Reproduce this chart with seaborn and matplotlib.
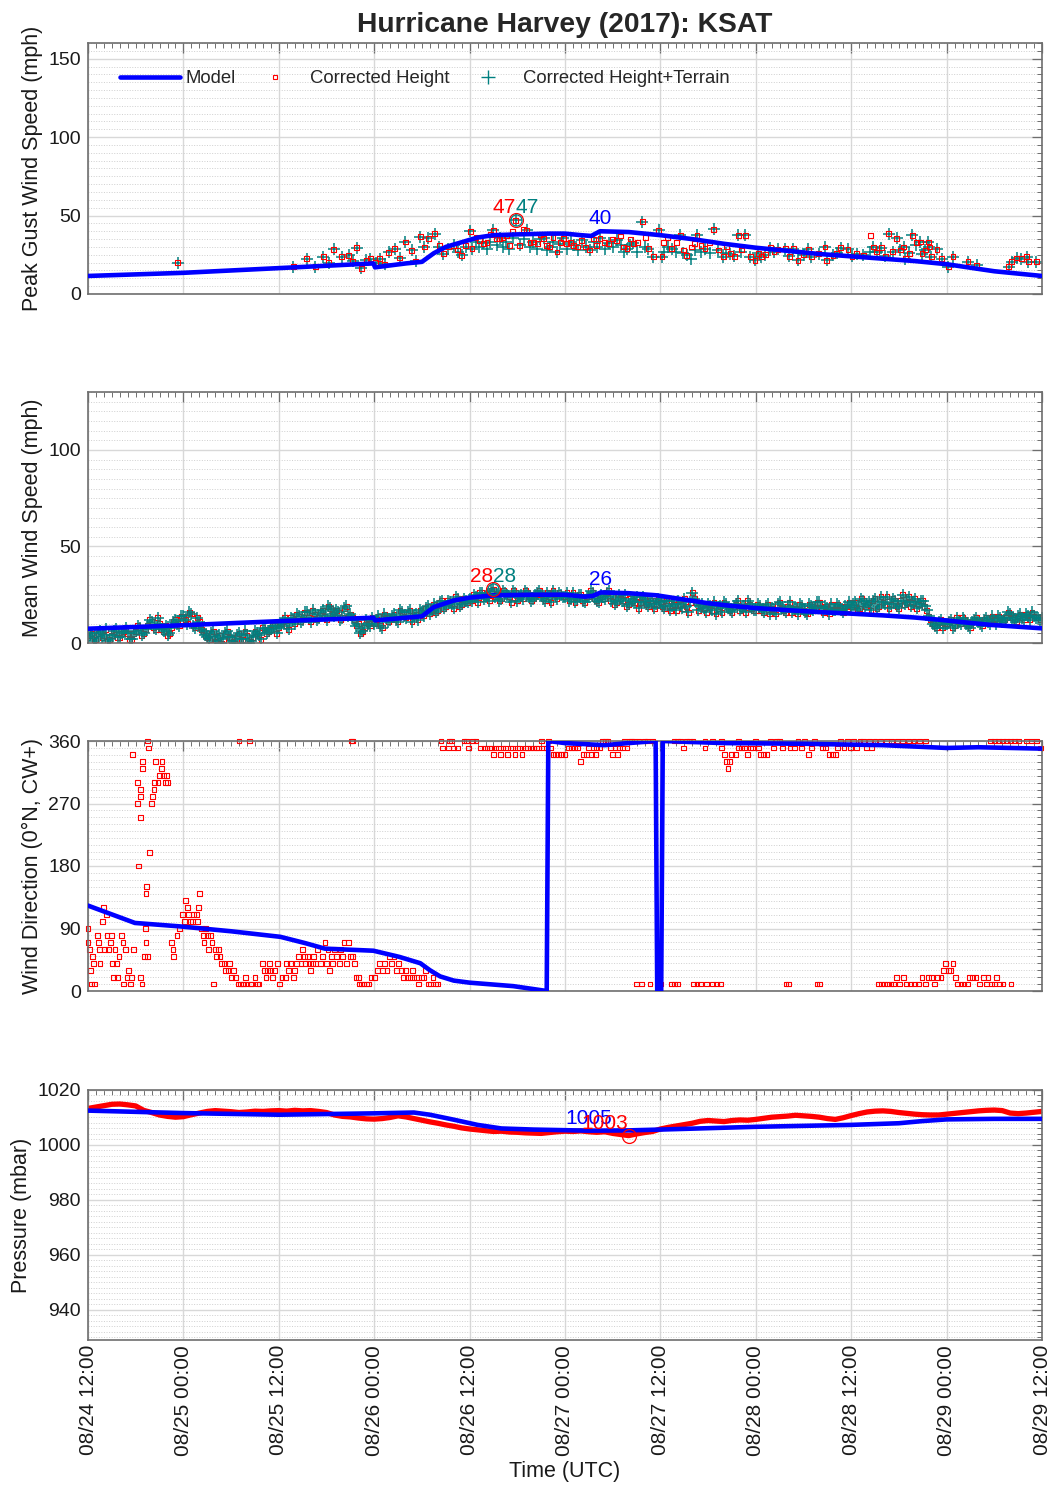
import numpy as np
import pandas as pd
import matplotlib
matplotlib.use("Agg")
import matplotlib.pyplot as plt
import matplotlib.dates as mdates
from matplotlib.ticker import MultipleLocator
from matplotlib.lines import Line2D
import seaborn as sns

sns.set_theme(style="white")
plt.rcParams["font.family"] = ["Liberation Sans", "DejaVu Sans"]

# ---------------- data (hours after 2017-08-24 12:00 UTC) ----------------
T0 = pd.Timestamp("2017-08-24 12:00")

# Peak gust model
gust_model_h = [0, 6, 12, 18, 24, 30, 35.9, 36.1, 40, 42, 43.5, 45, 47, 49, 51, 54, 58, 60, 62,
                63.3, 64.4, 68, 72, 76, 80, 84, 88, 92, 96, 100, 104, 108, 110, 112, 114, 116, 118, 120]
gust_model_v = [11.5, 12.5, 13.5, 15, 16.5, 18, 19.5, 17, 19.5, 20.5, 26, 30, 33, 36, 37.5, 38, 38.5, 38.5, 37.5,
                37, 40, 39.5, 37.5, 35, 32, 29.5, 27.5, 25.5, 24, 22.5, 21, 19, 17.5, 16, 14.5, 13.5, 12.5, 11.5]

# Peak gust observations
gust_obs_h = [11.3, 25.8, 27.5, 28.6, 29.6, 30.3, 30.9, 31.9, 32.8, 33.3, 33.8, 34.4, 35.0, 35.5, 36.2, 36.7,
              37.3, 37.8, 38.6, 39.2, 39.9, 40.7, 41.2, 41.8, 42.3, 42.8, 43.6, 44.2, 44.7, 45.3, 46.0, 46.5,
              47.0, 47.5, 48.1, 48.3, 48.8, 49.2, 49.7, 50.2, 50.6, 51.0, 51.4, 51.8, 52.2, 52.6, 53.0, 53.4,
              53.8, 54.3, 54.8, 55.2, 55.6, 56.0, 56.5, 56.9, 57.3, 57.7, 58.1, 58.5, 59.0, 59.4, 59.8, 60.2,
              60.7, 61.1, 61.6, 62.1, 62.6, 63.1, 63.6, 64.0, 64.4, 65.0, 65.5, 66.0, 66.5, 67.0, 67.4, 67.8,
              68.2, 68.6, 69.1, 69.7, 70.1, 70.5, 71.1, 71.8, 72.2, 72.4, 72.9, 73.4, 74.0, 74.5, 74.9, 75.3,
              75.9, 76.3, 76.6, 77.1, 77.6, 78.2, 78.7, 79.3, 79.9, 80.3, 80.8, 81.3, 81.8, 82.2, 82.7, 83.3,
              83.9, 84.3, 84.7, 85.2, 85.8, 86.3, 86.8, 87.7, 88.2, 88.7, 89.3, 90.0, 90.6, 91.0, 91.9, 92.7,
              92.9, 93.7, 94.2, 94.7, 95.6, 96.1, 96.7, 97.5, 98.4, 98.8, 99.2, 99.8, 100.3, 100.7, 101.2, 101.7,
              102.2, 102.6, 102.8, 103.3, 103.7, 104.2, 104.7, 104.9, 105.3, 105.7, 105.8, 106.1, 106.8, 107.4,
              108.2, 108.8, 110.7, 111.8, 115.8, 116.2, 116.8, 117.4, 118.1, 118.3, 119.3]
gust_terrain = [20, 17.3, 22.6, 17.3, 23.7, 20, 28.6, 23.7, 24.7, 21, 29.4, 16.3, 21.5, 22.6, 20, 22.6,
                19, 26.5, 29, 23, 33.2, 27.9, 21, 36.4, 30, 35.4, 38.5, 30, 25.8, 29, 31.1, 27,
                24.7, 30, 40, 29, 33, 30, 32.2, 29, 33, 40.6, 31, 35.4, 30, 33, 29, 36,
                47, 31, 35, 40.6, 30, 33.2, 29, 35, 35.4, 28, 30, 33, 26.8, 32, 35.4, 29,
                33, 31, 28, 34.3, 30, 28, 33, 30, 35.4, 29, 32.2, 30, 34.3, 31, 27, 29,
                31, 32.2, 27, 46, 30, 29, 23.7, 40.6, 23.7, 26.8, 30, 29, 27, 37.5, 26, 24.7,
                22.6, 28, 37.5, 27, 29, 26, 41.3, 28, 23.7, 26, 25.8, 24, 37.5, 27, 37.5, 23.7,
                21.6, 26, 23.7, 25, 29.4, 27, 28.4, 29, 24, 29, 21.6, 25, 28.6, 23.7, 25.8, 30,
                21.6, 24.7, 26, 29.4, 28.6, 24, 25.8, 24.7, 27, 30, 26.8, 29.4, 24, 38.5, 27, 35.4,
                28, 30, 22.6, 26, 37.5, 31, 33.2, 25.8, 28, 33.2, 30, 23.7, 28.6, 22.6,
                17.3, 23.7, 20.5, 18.4, 17.3, 20.5, 23, 22.6, 23.7, 20.5, 20.5]
gust_height = [20, 17.3, 22.6, 17.3, 23.7, 20, 28.6, 23.7, 24.7, 21, 29.4, 16.3, 21.5, 22.6, 20, 22.6,
               19, 26.5, 29, 23, 33.2, 27.9, 21, 36.4, 30, 35.4, 38.5, 31, 25.8, 30, 31.1, 28,
               24.7, 31, 40, 29, 36, 34, 32.2, 33, 38, 40.6, 35, 35.4, 36, 37, 31, 40,
               47, 31, 41, 40.6, 33, 33.2, 32, 38, 35.4, 31, 30, 36, 26.8, 33, 35.4, 32,
               33, 31, 30, 34.3, 30, 28, 35, 31, 35.4, 33, 32.2, 35, 34.3, 37, 30, 29,
               35, 32.2, 33, 46, 36, 29, 23.7, 40.6, 23.7, 33, 36, 29, 33, 37.5, 28, 24.7,
               30, 32, 37.5, 31, 29, 33, 41.3, 28, 23.7, 30, 25.8, 24, 37.5, 28, 37.5, 23.7,
               21.6, 26, 23.7, 25, 29.4, 27, 28.4, 29, 24, 29, 21.6, 25, 28.6, 23.7, 25.8, 30,
               21.6, 24.7, 26, 29.4, 28.6, 24, 25.8, 24.7, 37.5, 30, 26.8, 29.4, 24, 38.5, 27, 35.4,
               28, 30, 22.6, 26, 37.5, 33, 33.2, 25.8, 28, 33.2, 30, 23.7, 28.6, 22.6,
               17.3, 23.7, 20.5, 18.4, 17.3, 20.5, 23, 22.6, 23.7, 20.5, 20.5]

# Mean wind model
mean_model_h = [0, 12, 24, 35.9, 36.1, 42, 43.5, 46, 48, 51, 56, 60, 62.5, 63.5, 64.5, 68, 71.5, 75, 78,
                81, 84, 88, 92, 96, 100, 104, 107, 110, 113.5, 116, 120]
mean_model_v = [7.4, 9.2, 11.3, 13.1, 11.7, 13.8, 18.6, 22, 23.5, 24.7, 25, 25, 24, 24.4, 26.2, 25.8, 24.7,
                22.5, 20.6, 19.2, 18.1, 17, 16, 15.2, 14.3, 13.2, 12.1, 10.8, 9.4, 8.7, 7.6]

# Mean wind observations on the hour and half hour from 08/24 12:00
mean_obs_h = np.arange(0, 120.5, 0.5)
mean_obs_v = [3, 5, 2, 6, 4, 1, 4, 7, 3, 6, 5, 2, 6, 8, 5, 9, 11, 7, 10, 6, 4, 8, 12, 9,
              14, 10, 15, 8, 11, 6, 3, 5, 1, 4, 2, 6, 3, 0, 5, 2, 4, 1, 6, 4, 8, 5, 7, 9,
              8, 11, 9, 13, 10, 14, 12, 16, 11, 15, 13, 17, 12, 18, 14, 16, 13, 19, 15, 12, 10, 6, 12, 9,
              10, 14, 8, 13, 12, 15, 11, 16, 13, 17, 14, 12, 16, 18, 15, 20, 17, 22, 19, 21, 18, 23, 20, 22,
              23, 25, 21, 26, 24, 22, 28, 25, 23, 26, 24, 27, 22, 25, 27, 24, 23, 26, 25, 22, 24, 27, 23, 25,
              24, 22, 26, 23, 25, 21, 24, 26, 22, 25, 23, 27, 24, 21, 23, 25, 20, 22, 24, 21, 23, 19, 22, 20,
              21, 18, 22, 19, 17, 20, 23, 16, 26, 21, 19, 18, 20, 17, 15, 19, 21, 18, 16, 20, 17, 19, 22, 18,
              17, 19, 16, 20, 18, 15, 21, 17, 19, 16, 18, 20, 17, 15, 19, 18, 21, 16, 18, 20, 17, 19, 16, 18,
              19, 21, 18, 22, 20, 17, 23, 19, 21, 24, 20, 22, 18, 25, 21, 19, 23, 20, 22, 17, 12, 9, 11, 8,
              10, 12, 9, 11, 13, 10, 8, 12, 11, 9, 13, 10, 12, 14, 11, 13, 15, 12, 14, 13, 15, 12, 14, 13,
              13]
# Mean wind observations at quarter past / quarter to
mean_obs_h_mid = np.arange(0.25, 120, 0.5)
mean_obs_v_mid = [4, 1, 5, 3, 7, 2, 6, 3, 5, 8, 2, 5, 9, 4, 7, 12, 8, 13, 7, 9, 5, 11, 10, 14,
                  12, 16, 9, 13, 7, 4, 2, 6, 3, 0, 5, 3, 1, 4, 2, 6, 0, 3, 5, 2, 7, 6, 9, 5,
                  10, 13, 7, 12, 15, 11, 16, 13, 17, 12, 16, 14, 19, 15, 17, 12, 18, 14, 13, 9, 5, 8, 10, 13,
                  12, 9, 15, 11, 14, 12, 17, 14, 16, 11, 15, 17, 14, 19, 17, 16, 21, 18, 22, 20, 24, 19, 23, 21,
                  22, 24, 26, 23, 25, 27, 24, 22, 27, 25, 21, 26, 24, 23, 26, 22, 25, 27, 23, 26, 21, 25, 26, 24,
                  26, 23, 21, 25, 22, 24, 27, 23, 21, 24, 26, 22, 20, 25, 22, 19, 23, 21, 18, 24, 20, 22, 18, 23,
                  19, 22, 17, 20, 22, 18, 19, 21, 23, 17, 20, 16, 19, 21, 18, 16, 20, 17, 19, 22, 18, 16, 20, 17,
                  20, 17, 19, 15, 17, 20, 18, 16, 21, 18, 15, 19, 16, 20, 17, 21, 18, 19, 15, 17, 20, 17, 19, 21,
                  20, 17, 23, 19, 21, 22, 18, 24, 20, 18, 23, 19, 22, 20, 24, 21, 18, 22, 19, 14, 10, 8, 12, 10,
                  11, 8, 13, 10, 12, 9, 11, 13, 10, 12, 11, 14, 10, 13, 12, 16, 13, 11, 15, 12, 14, 16, 13, 12]

# Wind direction model
dir_model_h = [0, 5.9, 11.6, 18, 24.2, 27.3, 29.8, 35.9, 39.2, 41.8, 43, 44.3, 46, 48, 53.5, 57.7, 57.9,
               60, 65, 68, 71.4, 71.6, 72.1, 72.3, 80, 90, 100, 108, 112, 120]
dir_model_v = [123, 98, 93, 86, 78, 69, 61, 58, 49, 40, 30, 21, 15, 12, 7, 0, 360,
               357, 354, 357, 360, 0, 0, 360, 357, 356, 354, 350, 351, 349]

# Wind direction observations (corrected height)
dir_obs_h = [0.0, 0.0, 0.2, 0.3, 0.4, 0.6, 0.7, 0.8, 1.2, 1.3, 1.4, 1.5, 1.8, 2.0, 2.1, 2.3, 2.4, 2.6, 2.8, 3.0,
             3.1, 3.2, 3.4, 3.6, 3.7, 3.9, 4.2, 4.4, 4.5, 4.7, 4.9, 5.1, 5.3, 5.5, 5.7,
             5.6, 6.2, 6.2, 6.4, 6.6, 6.6, 6.6, 6.9, 6.9, 7.5, 7.6, 7.3, 7.4, 7.7, 8.0, 8.1, 8.3, 8.4, 8.5,
             8.8, 9.0, 9.2, 9.3, 9.5, 9.7, 9.9, 10.0, 6.6, 6.8, 7.2, 7.3, 7.5, 7.1,
             10.5, 10.7, 10.8, 11.2, 11.5, 11.9, 12.1, 12.3, 12.5, 12.6, 12.9, 13.1, 13.3, 13.6, 13.9, 14.0, 13.8,
             14.3, 14.5, 14.6, 14.8, 15.0, 15.2, 15.4, 15.6, 15.8, 16.0, 16.2, 16.4, 16.6, 16.8, 17.1, 17.3,
             17.6, 17.8, 18.1, 18.3, 18.6, 18.9, 19.0, 19.2, 19.4, 19.6, 19.8, 20.0, 20.3, 20.4, 20.6, 21.0,
             21.3, 21.5, 22.0, 22.2, 22.4, 22.6, 22.8, 23.0, 23.2, 23.5, 23.8,
             24.1, 24.4, 24.8, 25.0, 25.2, 25.5, 25.8, 26.0, 26.2, 26.5, 26.8, 27.0, 27.2, 27.4, 27.6, 27.8,
             28.0, 28.2, 28.4, 28.6, 28.9, 29.2, 29.5, 29.8, 30.0, 30.2, 30.4,
             30.6, 30.8, 31.0, 31.3, 31.6, 31.8, 32.0, 32.2, 32.5, 32.8, 33.0, 33.1, 33.3, 33.3, 33.5, 33.7,
             34.0, 34.2, 34.4, 34.7, 35.0, 35.3, 35.6, 36.0,
             36.4, 36.7, 37.0, 37.3, 37.6, 37.9, 38.2, 38.5, 38.8, 39.1, 39.4, 39.7, 39.9, 40.2, 40.5, 40.8,
             41.0, 41.3, 41.6, 41.9, 42.2, 42.5, 42.8, 43.1, 43.4, 43.7, 44.0,
             44.4, 44.6, 45.3, 45.5, 45.7, 46.0, 46.5, 47.3, 47.6, 47.9, 48.4, 48.8, 49.4, 49.9, 50.2, 50.5,
             50.8, 51.0, 51.3, 51.6, 51.9, 52.2, 52.5, 52.8, 53.1, 53.4, 53.7, 54.0, 54.3, 54.6, 55.0, 55.3,
             55.7, 56.0, 56.4, 56.7, 57.0, 57.3, 57.6, 57.9, 58.2, 58.5,
             58.8, 59.2, 59.6, 60.0, 60.4, 60.8, 61.2, 61.6, 62.0, 62.3, 62.7, 63.0, 63.3, 63.6, 63.8, 64.0,
             64.4, 64.7, 65.1, 65.4, 65.7, 66.0, 66.3, 66.6, 66.9, 67.2, 67.5, 67.8, 68.1, 68.4, 68.7, 69.0,
             69.3, 69.6, 70.0, 70.4, 70.7, 71.0, 72.0,
             73.4, 73.8, 74.2, 73.7, 74.1, 74.5, 74.9, 75.3, 75.7, 76.1, 76.2, 76.6, 77.0, 77.6, 77.6, 77.8,
             78.6, 78.6, 79.1, 79.6, 79.7, 79.7, 80.1, 80.3, 80.5, 80.7, 80.9, 81.4, 81.8, 81.8, 82.2, 82.6,
             83.0, 83.3, 83.6, 84.0, 84.3, 84.6, 85.0, 85.4, 85.8, 86.2, 86.6, 87.0, 87.4, 87.8, 88.1, 88.3,
             88.9, 89.3, 89.7, 90.1, 90.6, 91.0, 91.4, 91.7, 92.0, 92.4, 92.8, 93.2, 93.6, 94.0, 94.3, 94.7,
             95.1, 95.5, 95.9, 96.3, 96.7, 97.1, 97.5, 97.9, 98.3, 98.6, 99.0, 99.4, 99.8, 100.2, 100.6, 101.0,
             101.3, 99.7, 100.4, 101.1, 101.8, 102.5, 103.2, 103.9, 104.6, 105.3, 101.7, 102.1, 102.6, 103.0,
             103.5, 104.0, 104.5, 104.9, 105.3, 105.7, 106.1, 106.5, 106.9, 107.3, 107.6, 107.9, 108.2, 108.5,
             108.8, 109.1, 109.4, 109.8, 110.2, 110.6, 110.9, 111.3, 111.7, 112.1, 112.6, 113.0, 113.2, 113.6,
             114.0, 114.3, 114.7, 115.1, 116.1, 113.5, 114.0, 114.5, 115.0, 115.5, 116.0, 116.5, 117.0, 118.1,
             118.7, 119.3, 119.8]
dir_obs_v = [90, 70, 60, 30, 10, 50, 40, 10, 80, 70, 60, 40, 100, 120, 60, 110, 80, 60, 70, 80,
             40, 20, 60, 40, 20, 50, 80, 70, 10, 60, 20, 30, 10, 20, 60,
             340, 300, 270, 180, 290, 280, 250, 330, 320, 360, 350, 140, 150, 200, 270, 280, 290, 300, 330,
             300, 310, 320, 330, 310, 300, 310, 300, 20, 10, 90, 70, 50, 50,
             70, 60, 50, 80, 90, 110, 100, 130, 120, 110, 100, 100, 110, 110, 120, 140, 100,
             90, 80, 70, 90, 80, 60, 80, 70, 10, 60, 50, 60, 50, 40, 40, 30,
             30, 40, 20, 30, 20, 10, 360, 10, 10, 10, 20, 10, 360, 10, 10, 20,
             10, 10, 40, 30, 20, 30, 40, 30, 20, 30, 40,
             10, 20, 20, 40, 30, 40, 20, 30, 40, 50, 40, 60, 50, 40, 50, 40,
             30, 40, 50, 40, 60, 40, 50, 70, 40, 60, 30,
             50, 40, 60, 50, 40, 60, 50, 70, 40, 70, 50, 360, 360, 50, 40, 20,
             20, 10, 10, 10, 10, 10, 20, 20,
             30, 40, 30, 40, 30, 50, 40, 50, 30, 40, 30, 20, 30, 20, 20, 30,
             20, 20, 10, 20, 20, 30, 10, 10, 20, 10, 10,
             360, 350, 350, 360, 360, 350, 350, 360, 360, 350, 360, 360, 350, 350, 350, 350,
             350, 340, 350, 350, 340, 350, 350, 340, 350, 350, 340, 350, 350, 340, 350, 350,
             350, 350, 350, 350, 360, 350, 350, 360, 350, 340,
             340, 340, 340, 340, 350, 350, 350, 350, 330, 340, 340, 350, 340, 350, 340, 350,
             350, 360, 360, 360, 350, 340, 350, 340, 350, 350, 360, 350, 360, 360, 360, 10,
             360, 10, 360, 360, 10, 360, 10,
             10, 10, 10, 360, 360, 360, 350, 360, 360, 360, 10, 10, 10, 360, 350, 10,
             10, 360, 10, 10, 360, 350, 340, 330, 320, 330, 340, 340, 360, 350, 350, 350,
             340, 350, 350, 360, 350, 340, 340, 340, 360, 350, 360, 360, 350, 10, 10, 350,
             350, 360, 350, 360, 340, 350, 360, 10, 10, 350, 350, 340, 340, 340, 350, 360,
             350, 360, 350, 360, 350, 360, 360, 350, 360, 350, 360, 10, 10, 10, 10, 10,
             10, 360, 360, 360, 360, 360, 360, 360, 360, 360, 20, 10, 20, 10,
             10, 10, 10, 20, 10, 20, 20, 10, 20, 20, 30, 40, 30, 30,
             40, 20, 10, 10, 10, 10, 20, 20, 20, 10, 20, 10, 20, 10,
             10, 20, 10, 10, 10, 360, 360, 360, 360, 360, 360, 360, 360, 360,
             360, 360, 350]

# Pressure model
pres_model_h = [0, 12, 24, 36, 41, 43, 46, 49, 52, 56, 63, 68, 72, 84, 96, 102, 105, 108, 114, 120]
pres_model_v = [1012.5, 1011.6, 1011, 1011.5, 1011.8, 1011, 1009.2, 1007.3, 1006, 1005.6, 1005.2, 1005.3,
                1005.6, 1006.6, 1007.3, 1007.9, 1008.7, 1009.3, 1009.5, 1009.5]

# Pressure observations, hourly from 08/24 12:00
pres_obs_h = np.arange(0, 121)
pres_obs_v = [1013.3, 1013.8, 1014.3, 1014.8, 1014.9, 1014.6, 1014.2, 1012.6, 1011.8, 1010.9, 1010.4, 1010.1,
              1010.3, 1011.0, 1011.6, 1012.2, 1012.5, 1012.3, 1012.1, 1011.8, 1012.0, 1012.3, 1012.2, 1012.4,
              1012.5, 1012.3, 1012.6, 1012.4, 1012.5, 1012.2, 1011.8, 1010.9, 1010.4, 1010.2, 1009.8, 1009.5,
              1009.4, 1009.6, 1010.0, 1010.6, 1010.2, 1009.6, 1009.0, 1008.4, 1007.9, 1007.3, 1006.8, 1006.2,
              1005.8, 1005.5, 1005.2, 1004.9, 1005.0, 1004.7, 1004.6, 1004.4, 1004.3, 1004.2, 1004.5, 1004.8,
              1005.0, 1004.9, 1005.1, 1004.8, 1004.6, 1004.8, 1004.2, 1003.8, 1003.4, 1004.0, 1004.5, 1004.9,
              1005.8, 1006.4, 1006.9, 1007.4, 1007.9, 1008.6, 1008.9, 1008.7, 1008.5, 1008.9, 1009.1, 1009.0,
              1009.3, 1009.7, 1010.1, 1010.3, 1010.5, 1010.8, 1010.6, 1010.4, 1010.1, 1009.6, 1009.3, 1009.9,
              1010.7, 1011.4, 1012.0, 1012.3, 1012.4, 1012.2, 1011.8, 1011.5, 1011.2, 1011.0, 1010.9, 1010.9,
              1011.2, 1011.5, 1011.8, 1012.1, 1012.4, 1012.6, 1012.7, 1012.5, 1011.6, 1011.4, 1011.6, 1011.9,
              1012.2]

# ---------------- styling ----------------
BLUE = "#0000ff"
RED = "#ff0000"
TEAL = "#008080"
FRAME = "#6e6e6e"
TICK_FS = 14
XTICK_FS = 15
LABEL_FS = 15.5
ANN_FS = 15


def to_time(hours):
    return T0 + pd.to_timedelta(np.asarray(hours, dtype=float), unit="h")


W, H = 1052, 1488
fig = plt.figure(figsize=(W / 100, H / 100), dpi=100)
left_px, right_px = 88, 1042
panel_px = [(43, 294), (392, 643), (741, 991), (1090, 1340)]
axes = []
for top, bot in panel_px:
    axes.append(fig.add_axes([left_px / W, 1 - bot / H, (right_px - left_px) / W, (bot - top) / H]))


def style_axis(ax, ylim, major, minor, ylabel, show_x):
    ax.set_xlim(T0, T0 + pd.Timedelta(hours=120))
    ax.set_ylim(*ylim)
    ax.xaxis.set_major_locator(mdates.HourLocator(byhour=[0, 12]))
    ax.xaxis.set_minor_locator(mdates.HourLocator(interval=1))
    ax.xaxis.set_major_formatter(mdates.DateFormatter("%m/%d %H:%M"))
    ax.yaxis.set_major_locator(MultipleLocator(major))
    ax.yaxis.set_minor_locator(MultipleLocator(minor))
    ax.grid(which="major", color="#d8d8d8", linewidth=1.0, linestyle="-")
    ax.yaxis.grid(which="minor", color="#cfcfcf", linewidth=0.7, linestyle=":")
    ax.set_axisbelow(True)
    ax.tick_params(which="both", direction="in", top=True, right=True, color=FRAME,
                   labelsize=TICK_FS, labelcolor="#1a1a1a")
    ax.tick_params(which="major", length=7, width=0.9)
    ax.tick_params(which="minor", length=3.5, width=0.7)
    ax.tick_params(axis="y", which="major", pad=5)
    for sp in ax.spines.values():
        sp.set_color(FRAME)
        sp.set_linewidth(1.2)
        sp.set_visible(True)
    ax.set_ylabel(ylabel, fontsize=LABEL_FS, color="#1a1a1a")
    ax.set_xlabel("")
    if show_x:
        ax.tick_params(axis="x", which="major", labelbottom=True, labelrotation=90,
                       labelsize=XTICK_FS)
        ax.set_xlabel("Time (UTC)", fontsize=LABEL_FS, color="#1a1a1a")
    else:
        ax.tick_params(axis="x", labelbottom=False)


def label_max(ax, h, v, color, ha, use_min=False):
    v = np.asarray(v, dtype=float)
    i = int(np.argmin(v) if use_min else np.argmax(v))
    t = to_time([h[i]])[0]
    ax.annotate(f"{int(round(v[i]))}", xy=(t, v[i]), xytext=(0, 3), textcoords="offset pixels",
                ha=ha, va="bottom", color=color, fontsize=ANN_FS, zorder=6)
    return t, v[i]


# ---------------- panel 1: peak gust ----------------
ax = axes[0]
df_g = pd.DataFrame({"t": to_time(gust_obs_h), "height": gust_height, "terrain": gust_terrain})
sns.scatterplot(data=df_g, x="t", y="terrain", ax=ax, marker="+", s=85, color=TEAL,
                linewidth=1.1, zorder=2, legend=False)
sns.scatterplot(data=df_g, x="t", y="height", ax=ax, marker="s", s=12, facecolor="none",
                edgecolor=RED, linewidth=0.8, zorder=3, legend=False)
sns.lineplot(x=to_time(gust_model_h), y=gust_model_v, ax=ax, color=BLUE, linewidth=3.3,
             sort=False, estimator=None, zorder=4)
tr, vr = label_max(ax, gust_obs_h, gust_height, RED, "right")
tt, vt = label_max(ax, gust_obs_h, gust_terrain, TEAL, "left")
ax.plot([tr], [vr], marker="o", ms=10, mfc="none", mec=RED, mew=0.9, zorder=5)
ax.plot([tt], [vt], marker="o", ms=8, mfc="none", mec=TEAL, mew=0.9, zorder=5)
label_max(ax, gust_model_h, gust_model_v, BLUE, "center")
style_axis(ax, (0, 160), 50, 5, "Peak Gust Wind Speed (mph)", False)
ax.set_title("Hurricane Harvey (2017): KSAT", fontsize=20.3, fontweight="bold", pad=8)
handles = [Line2D([], [], color=BLUE, lw=3.3),
           Line2D([], [], color=RED, marker="s", ms=3.5, mfc="none", lw=0, mew=0.8),
           Line2D([], [], color=TEAL, marker="+", ms=10, lw=0, mew=1.0)]
ax.legend(handles, ["Model", "Corrected Height", "Corrected Height+Terrain"], loc="center left",
          bbox_to_anchor=(0.034, 0.857), ncol=3, frameon=False, fontsize=13.3, handlelength=3.25,
          handletextpad=0.27, columnspacing=0.48, borderpad=0, borderaxespad=0)

# ---------------- panel 2: mean wind ----------------
ax = axes[1]
mean_all_h = np.concatenate([mean_obs_h, mean_obs_h_mid])
mean_all_v = np.concatenate([mean_obs_v, mean_obs_v_mid])
df_m = pd.DataFrame({"t": to_time(mean_all_h), "v": mean_all_v})
sns.scatterplot(data=df_m, x="t", y="v", ax=ax, marker="s", s=12, facecolor="none",
                edgecolor=RED, linewidth=0.8, zorder=2, legend=False)
sns.scatterplot(data=df_m, x="t", y="v", ax=ax, marker="+", s=85, color=TEAL,
                linewidth=1.1, zorder=2.5, legend=False)
sns.lineplot(x=to_time(mean_model_h), y=mean_model_v, ax=ax, color=BLUE, linewidth=3.3,
             sort=False, estimator=None, zorder=4)
tr, vr = label_max(ax, mean_all_h, mean_all_v, RED, "right")
label_max(ax, mean_all_h, mean_all_v, TEAL, "left")
ax.plot([tr], [vr], marker="o", ms=10, mfc="none", mec=RED, mew=0.9, zorder=5)
ax.plot([tr], [vr], marker="o", ms=8, mfc="none", mec=TEAL, mew=0.9, zorder=5)
label_max(ax, mean_model_h, mean_model_v, BLUE, "center")
style_axis(ax, (0, 130), 50, 5, "Mean Wind Speed (mph)", False)

# ---------------- panel 3: wind direction ----------------
ax = axes[2]
df_d = pd.DataFrame({"t": to_time(dir_obs_h), "v": dir_obs_v})
sns.scatterplot(data=df_d, x="t", y="v", ax=ax, marker="s", s=12, facecolor="none",
                edgecolor=RED, linewidth=0.8, zorder=2, legend=False, clip_on=False)
sns.lineplot(x=to_time(dir_model_h), y=dir_model_v, ax=ax, color=BLUE, linewidth=3.3,
             sort=False, estimator=None, zorder=4)
style_axis(ax, (0, 360), 90, 10, "Wind Direction (0°N, CW+)", False)

# ---------------- panel 4: pressure ----------------
ax = axes[3]
sns.lineplot(x=to_time(pres_obs_h), y=pres_obs_v, ax=ax, color=RED, linewidth=3.8,
             sort=False, estimator=None, zorder=2)
sns.lineplot(x=to_time(pres_model_h), y=pres_model_v, ax=ax, color=BLUE, linewidth=3.3,
             sort=False, estimator=None, zorder=4)
label_max(ax, pres_model_h, pres_model_v, BLUE, "center", use_min=True)
tr, vr = label_max(ax, pres_obs_h, pres_obs_v, RED, "right", use_min=True)
ax.plot([tr], [vr], marker="o", ms=10, mfc="none", mec=RED, mew=0.9, zorder=5)
style_axis(ax, (929, 1020), 20, 2, "Pressure (mbar)", True)

fig.savefig("out.png", dpi=100)
